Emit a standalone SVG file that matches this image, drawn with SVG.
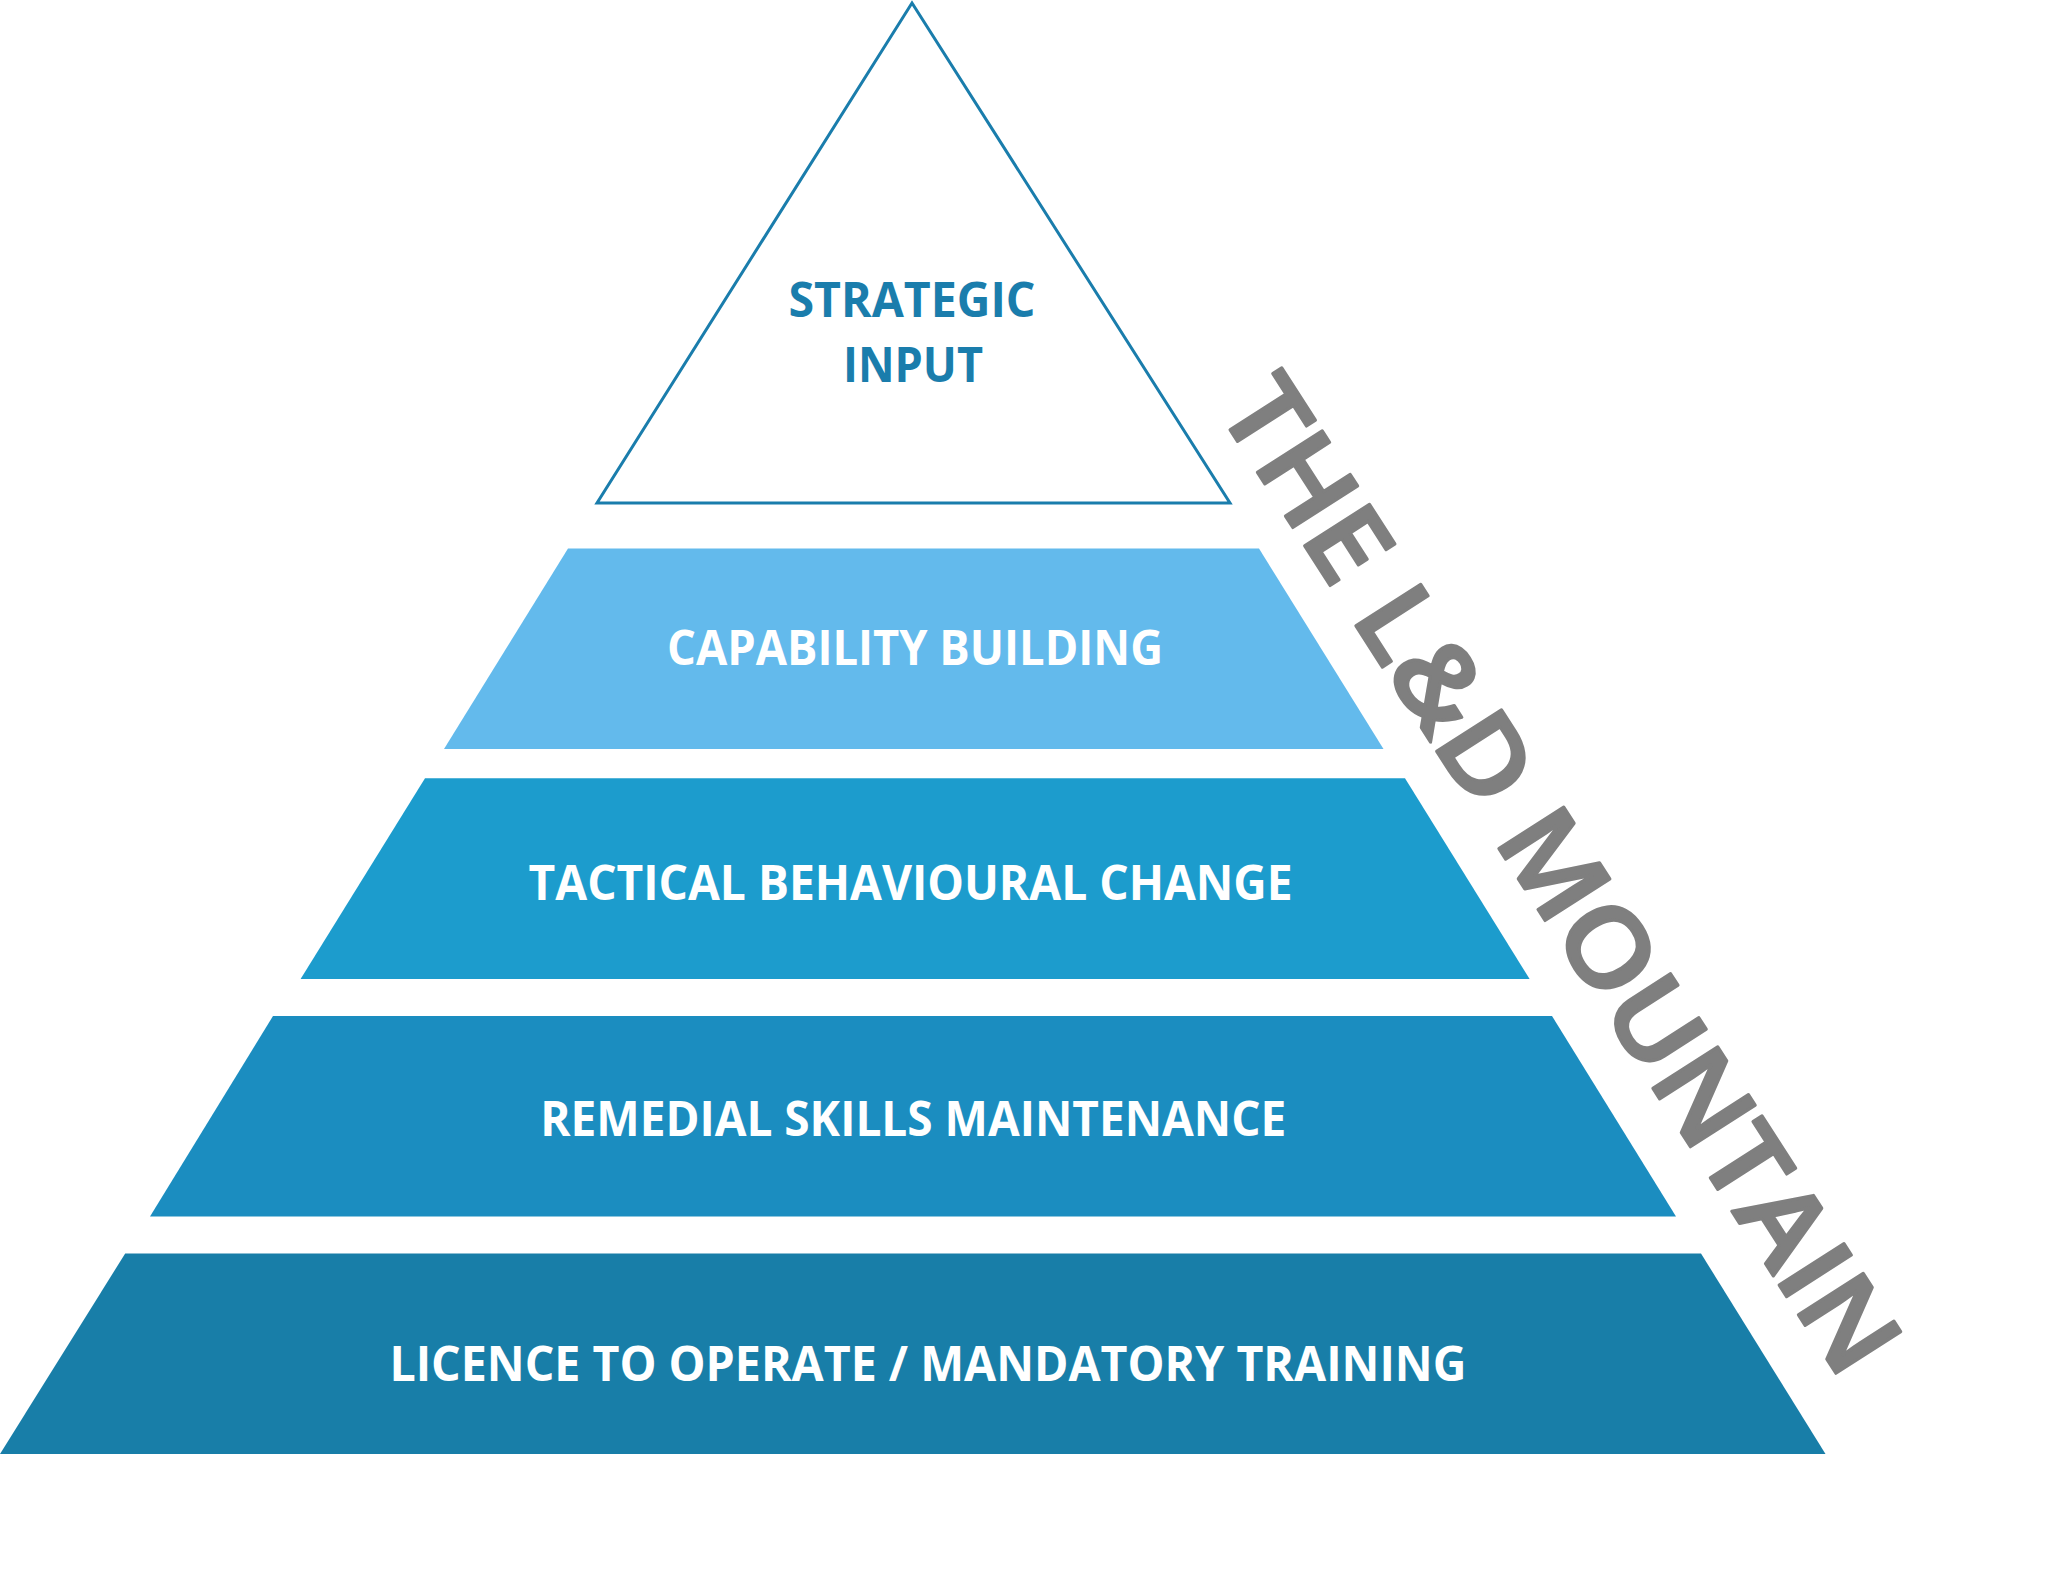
<svg xmlns="http://www.w3.org/2000/svg" width="2048" height="1575" viewBox="0 0 2048 1575">
<style>
.lbl{font-family:"Open Sans","Noto Sans","Liberation Sans",sans-serif;font-weight:700;font-size:48px;text-anchor:middle;fill:#ffffff}
.apexlbl{fill:#1A7DAC}
.title{font-family:"Open Sans","Noto Sans","DejaVu Sans",sans-serif;font-weight:600;font-size:108px;fill:#7F7F7F;stroke:#7F7F7F;stroke-width:3;stroke-linejoin:round}
</style>
<rect x="0" y="0" width="2048" height="1575" fill="#ffffff"/>
<g id="strategic-input">
<polygon points="912,3 597,503 1230,503" fill="#ffffff" stroke="#1A7DAC" stroke-width="3" stroke-linejoin="miter"/>
<text class="lbl apexlbl" x="912" y="317" textLength="247" lengthAdjust="spacingAndGlyphs">STRATEGIC</text>
<text class="lbl apexlbl" x="913" y="382" textLength="140" lengthAdjust="spacingAndGlyphs">INPUT</text>
</g>
<g id="capability-building">
<polygon points="568,548.5 1259,548.5 1383.5,749 444,749" fill="#63BAEC"/>
<text class="lbl" x="915" y="665" textLength="496" lengthAdjust="spacingAndGlyphs">CAPABILITY BUILDING</text>
</g>
<g id="tactical-behavioural-change">
<polygon points="425,778.3 1405,778.3 1529.6,979 300.6,979" fill="#1C9CCD"/>
<text class="lbl" x="910.6" y="900" textLength="764" lengthAdjust="spacingAndGlyphs">TACTICAL BEHAVIOURAL CHANGE</text>
</g>
<g id="remedial-skills-maintenance">
<polygon points="273,1016 1552,1016 1676,1216.5 150,1216.5" fill="#1B8DC0"/>
<text class="lbl" x="913.2" y="1135.7" textLength="746" lengthAdjust="spacingAndGlyphs">REMEDIAL SKILLS MAINTENANCE</text>
</g>
<g id="licence-to-operate">
<polygon points="125.2,1253.5 1701,1253.5 1825.5,1454 0,1454" fill="#187EA8"/>
<text class="lbl" x="927.9" y="1381" textLength="1077" lengthAdjust="spacingAndGlyphs">LICENCE TO OPERATE / MANDATORY TRAINING</text>
</g>
<g id="title">
<text class="title" transform="translate(1216,408) rotate(57.3)" x="0" y="0" textLength="1158" lengthAdjust="spacingAndGlyphs">THE L&amp;D MOUNTAIN</text>
</g>
</svg>
